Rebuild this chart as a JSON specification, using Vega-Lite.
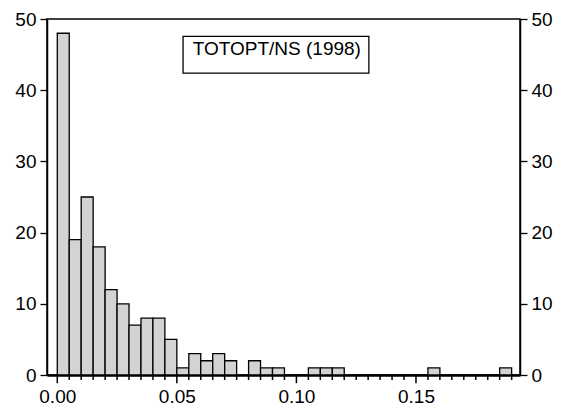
{
  "$schema": "https://vega.github.io/schema/vega-lite/v6.json",
  "autosize": {"type": "none"},
  "width": 473,
  "height": 356,
  "padding": {"left": 47, "top": 19, "right": 41, "bottom": 38},
  "background": "white",
  "config": {
    "view": {"stroke": "black", "strokeWidth": 1.5},
    "font": "Liberation Sans",
    "axis": {
      "labelFont": "Liberation Sans",
      "labelFontSize": 19,
      "labelColor": "black",
      "tickColor": "black",
      "domainColor": "black",
      "grid": false,
      "title": null
    }
  },
  "datasets": {
    "hist": [
      {"bin_start": 0.000, "bin_end": 0.005, "count": 48},
      {"bin_start": 0.005, "bin_end": 0.010, "count": 19},
      {"bin_start": 0.010, "bin_end": 0.015, "count": 25},
      {"bin_start": 0.015, "bin_end": 0.020, "count": 18},
      {"bin_start": 0.020, "bin_end": 0.025, "count": 12},
      {"bin_start": 0.025, "bin_end": 0.030, "count": 10},
      {"bin_start": 0.030, "bin_end": 0.035, "count": 7},
      {"bin_start": 0.035, "bin_end": 0.040, "count": 8},
      {"bin_start": 0.040, "bin_end": 0.045, "count": 8},
      {"bin_start": 0.045, "bin_end": 0.050, "count": 5},
      {"bin_start": 0.050, "bin_end": 0.055, "count": 1},
      {"bin_start": 0.055, "bin_end": 0.060, "count": 3},
      {"bin_start": 0.060, "bin_end": 0.065, "count": 2},
      {"bin_start": 0.065, "bin_end": 0.070, "count": 3},
      {"bin_start": 0.070, "bin_end": 0.075, "count": 2},
      {"bin_start": 0.080, "bin_end": 0.085, "count": 2},
      {"bin_start": 0.085, "bin_end": 0.090, "count": 1},
      {"bin_start": 0.090, "bin_end": 0.095, "count": 1},
      {"bin_start": 0.105, "bin_end": 0.110, "count": 1},
      {"bin_start": 0.110, "bin_end": 0.115, "count": 1},
      {"bin_start": 0.115, "bin_end": 0.120, "count": 1},
      {"bin_start": 0.155, "bin_end": 0.160, "count": 1},
      {"bin_start": 0.185, "bin_end": 0.190, "count": 1}
    ],
    "minorTicks": [
      {"t": 0.005}, {"t": 0.010}, {"t": 0.015}, {"t": 0.020}, {"t": 0.025}, {"t": 0.030}, {"t": 0.035}, {"t": 0.040}, {"t": 0.045},
      {"t": 0.055}, {"t": 0.060}, {"t": 0.065}, {"t": 0.070}, {"t": 0.075}, {"t": 0.080}, {"t": 0.085}, {"t": 0.090}, {"t": 0.095},
      {"t": 0.105}, {"t": 0.110}, {"t": 0.115}, {"t": 0.120}, {"t": 0.125}, {"t": 0.130}, {"t": 0.135}, {"t": 0.140}, {"t": 0.145},
      {"t": 0.155}, {"t": 0.160}, {"t": 0.165}, {"t": 0.170}, {"t": 0.175}, {"t": 0.180}, {"t": 0.185}, {"t": 0.190}
    ],
    "majorTicks": [
      {"t": 0.00}, {"t": 0.05}, {"t": 0.10}, {"t": 0.15}
    ],
    "label": [
      {"text": "TOTOPT/NS (1998)", "x0": 0.0526, "x1": 0.1303, "y0": 42.41, "y1": 47.55, "xc": 0.0918, "yc": 44.9}
    ]
  },
  "layer": [
    {
      "layer": [
        {
          "data": {"name": "hist"},
          "mark": {"type": "rect", "fill": "#d3d3d3", "stroke": "black", "strokeWidth": 1.3},
          "encoding": {
            "x": {
              "field": "bin_start", "type": "quantitative",
              "scale": {"domain": [-0.0043, 0.1935], "nice": false, "zero": false},
              "axis": {
                "orient": "bottom",
                "values": [0, 0.05, 0.1, 0.15],
                "format": ".2f",
                "ticks": false,
                "domainWidth": 2.5,
                "labelPadding": 12,
                "labelOverlap": false,
                "labelFlush": false
              }
            },
            "x2": {"field": "bin_end"},
            "y": {
              "field": "count", "type": "quantitative",
              "scale": {"domain": [0, 50], "nice": false},
              "axis": {"orient": "left", "values": [0,10,20,30,40,50], "tickSize": 7, "tickWidth": 1.3, "labelPadding": 4, "domainWidth": 1.5, "labelFlush": false}
            },
            "y2": {"datum": 0}
          }
        },
        {
          "data": {"name": "minorTicks"},
          "mark": {"type": "rule", "color": "black", "strokeWidth": 1.5, "clip": false},
          "encoding": {
            "x": {
              "field": "t", "type": "quantitative",
              "scale": {"domain": [-0.0043, 0.1935], "nice": false, "zero": false},
              "axis": {
                "orient": "bottom",
                "values": [0, 0.05, 0.1, 0.15],
                "format": ".2f",
                "ticks": false,
                "domainWidth": 2.5,
                "labelPadding": 12,
                "labelOverlap": false,
                "labelFlush": false
              }
            },
            "y": {"datum": 0, "type": "quantitative", "scale": {"domain": [0, 50], "nice": false}},
            "y2": {"datum": -0.7}
          }
        },
        {
          "data": {"name": "majorTicks"},
          "mark": {"type": "rule", "color": "black", "strokeWidth": 1.5, "clip": false},
          "encoding": {
            "x": {
              "field": "t", "type": "quantitative",
              "scale": {"domain": [-0.0043, 0.1935], "nice": false, "zero": false},
              "axis": {
                "orient": "bottom",
                "values": [0, 0.05, 0.1, 0.15],
                "format": ".2f",
                "ticks": false,
                "domainWidth": 2.5,
                "labelPadding": 12,
                "labelOverlap": false,
                "labelFlush": false
              }
            },
            "y": {"datum": 0, "type": "quantitative", "scale": {"domain": [0, 50], "nice": false}},
            "y2": {"datum": -1.15}
          }
        }
      ]
    },
    {
      "data": {"name": "label"},
      "encoding": {
        "y": {
          "field": "y0", "type": "quantitative",
          "scale": {"domain": [0, 50], "nice": false},
          "axis": {"orient": "right", "values": [0,10,20,30,40,50], "tickSize": 7, "tickWidth": 1.3, "labelPadding": 4, "domainWidth": 1.5, "labelFlush": false}
        }
      },
      "layer": [
        {
          "mark": {"type": "rect", "fill": "white", "stroke": "black", "strokeWidth": 1.3},
          "encoding": {
            "x": {
              "field": "x0", "type": "quantitative",
              "scale": {"domain": [-0.0043, 0.1935], "nice": false, "zero": false},
              "axis": {
                "orient": "bottom",
                "values": [0, 0.05, 0.1, 0.15],
                "format": ".2f",
                "ticks": false,
                "domainWidth": 2.5,
                "labelPadding": 12,
                "labelOverlap": false,
                "labelFlush": false
              }
            },
            "x2": {"field": "x1"},
            "y2": {"field": "y1"}
          }
        },
        {
          "mark": {"type": "text", "font": "Liberation Sans", "fontSize": 19, "align": "center", "baseline": "alphabetic", "color": "black"},
          "encoding": {
            "x": {
              "field": "xc", "type": "quantitative",
              "scale": {"domain": [-0.0043, 0.1935], "nice": false, "zero": false},
              "axis": {
                "orient": "bottom",
                "values": [0, 0.05, 0.1, 0.15],
                "format": ".2f",
                "ticks": false,
                "domainWidth": 2.5,
                "labelPadding": 12,
                "labelOverlap": false,
                "labelFlush": false
              }
            },
            "y": {"field": "yc", "type": "quantitative"},
            "text": {"field": "text"}
          }
        }
      ]
    }
  ],
  "resolve": {"scale": {"y": "independent"}, "axis": {"y": "independent"}}
}
